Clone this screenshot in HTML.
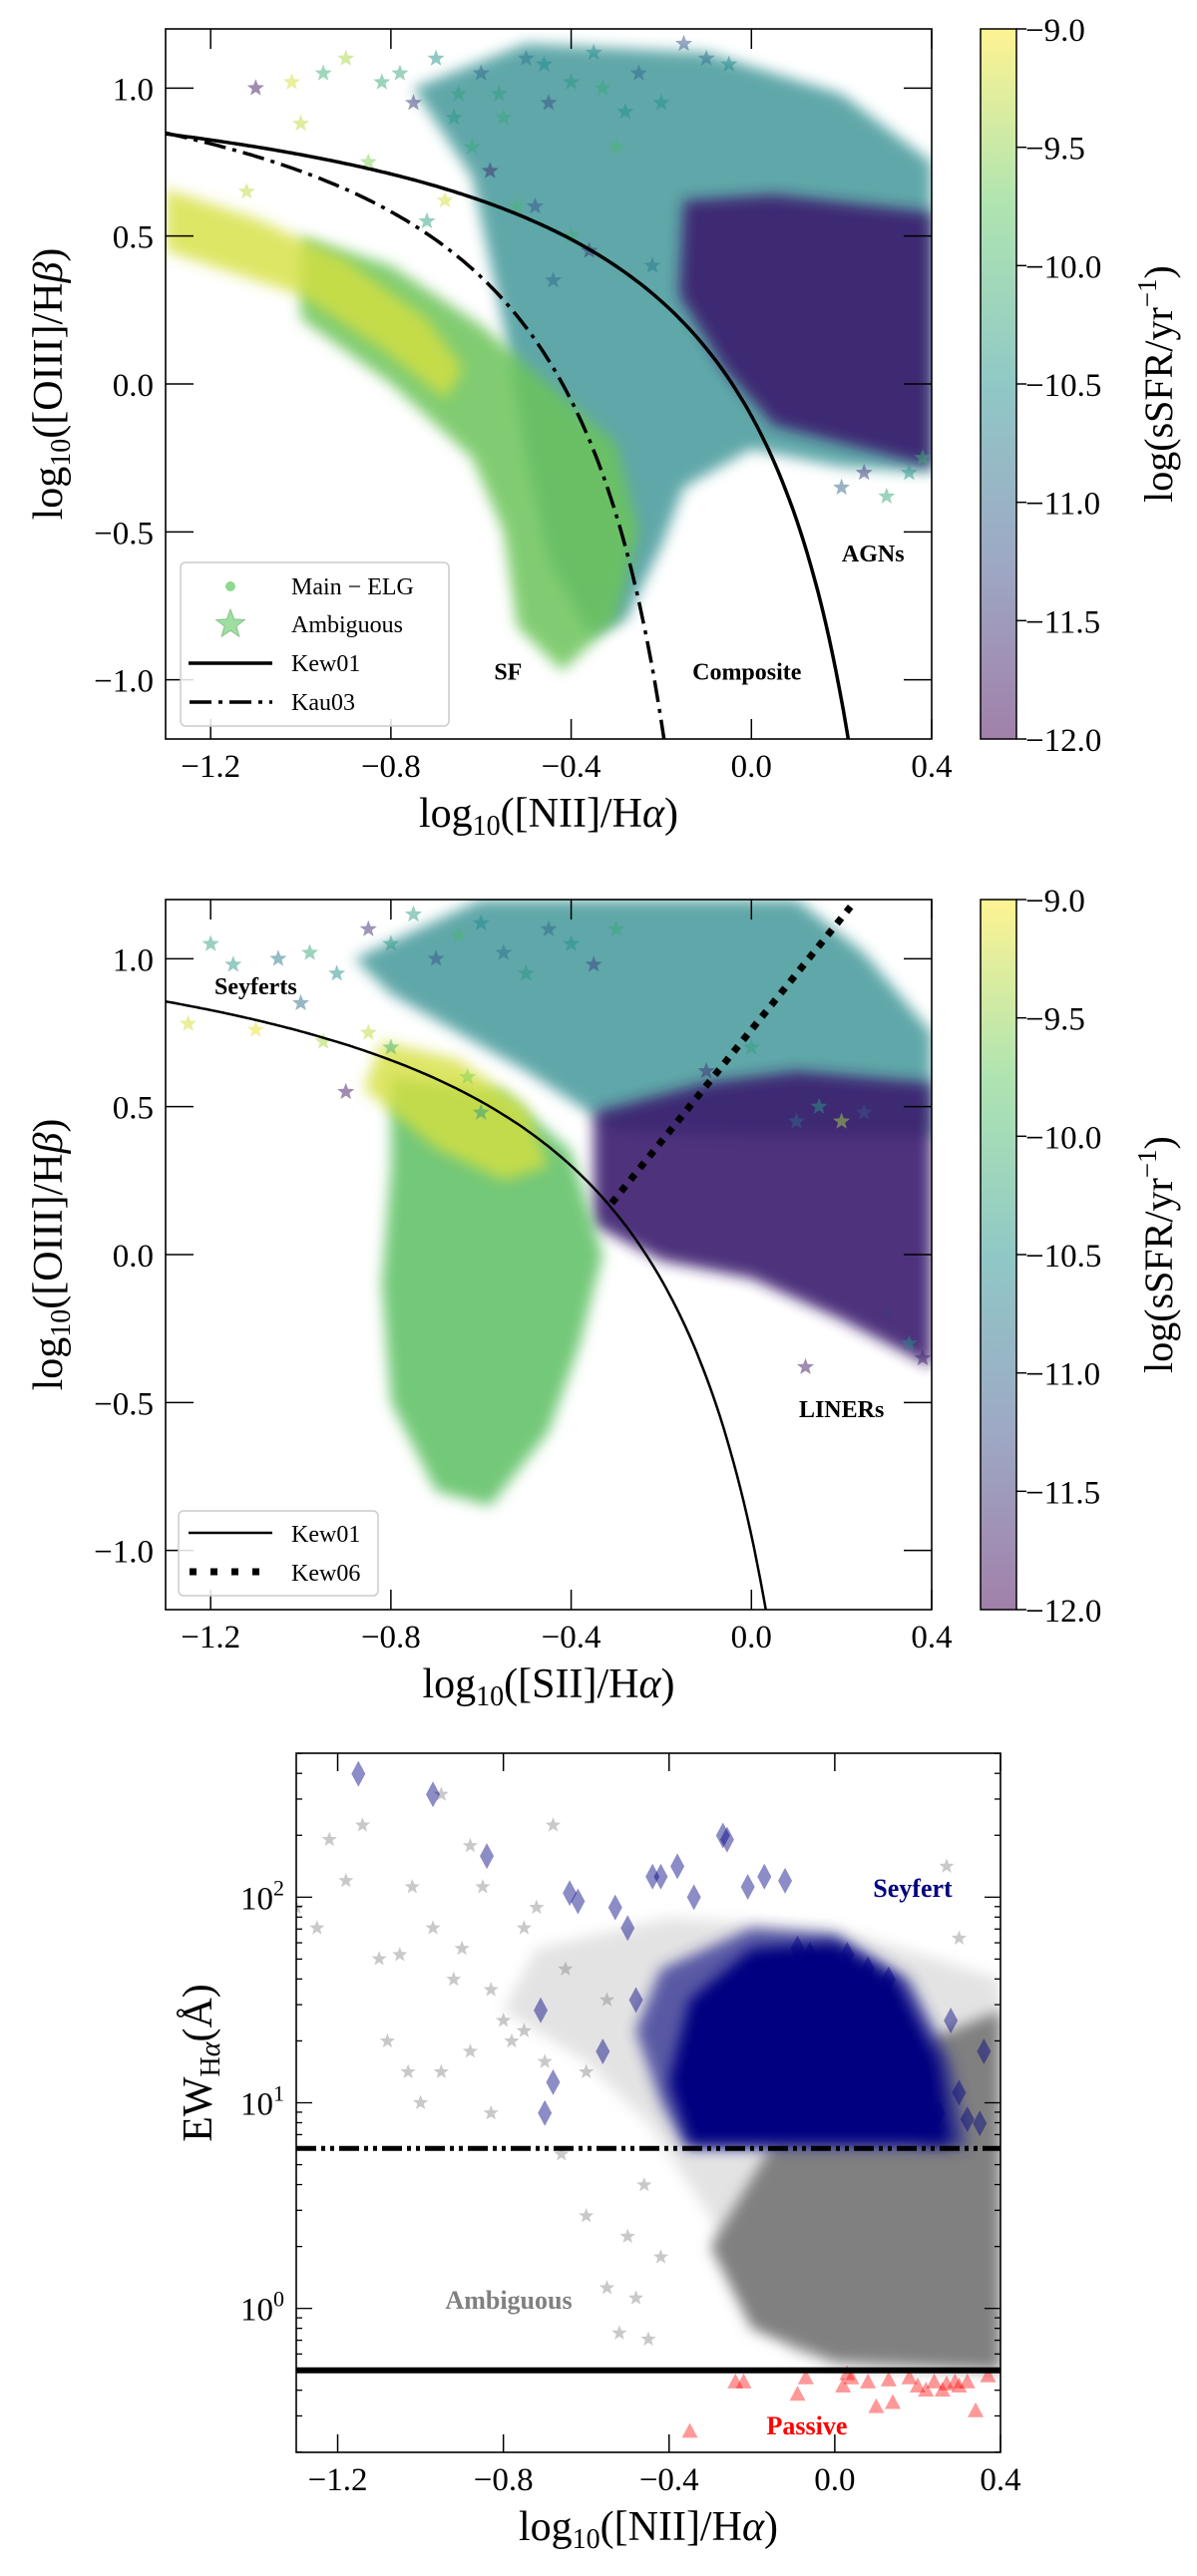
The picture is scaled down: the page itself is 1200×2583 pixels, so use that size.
<!DOCTYPE html>
<html><head><meta charset="utf-8">
<style>
html,body{margin:0;padding:0;background:#fff;}
svg{display:block;font-family:"Liberation Serif",serif;}
</style></head>
<body>
<svg id="fig" width="1200" height="2583" viewBox="0 0 1200 2583" xmlns="http://www.w3.org/2000/svg">
<defs>
<filter id="soft" x="-20%" y="-20%" width="140%" height="140%"><feGaussianBlur stdDeviation="7"/></filter>
<linearGradient id="cbar" x1="0" y1="1" x2="0" y2="0">
<stop offset="0" stop-color="#440154"/><stop offset="0.25" stop-color="#3b528b"/><stop offset="0.5" stop-color="#21918c"/><stop offset="0.75" stop-color="#5ec962"/><stop offset="1" stop-color="#fde725"/>
</linearGradient>
</defs>
</svg>
<script>
// ---------- data ----------
const xTicksBPT = [-1.2, -0.8, -0.4, 0.0, 0.4];
const xTickLabelsBPT = ["\u22121.2", "\u22120.8", "\u22120.4", "0.0", "0.4"];
const yTicksBPT = [-1.0, -0.5, 0.0, 0.5, 1.0];
const yTickLabelsBPT = ["\u22121.0", "\u22120.5", "0.0", "0.5", "1.0"];
const cbarTicks = [-9.0, -9.5, -10.0, -10.5, -11.0, -11.5, -12.0];
const cbarTickLabels = ["\u22129.0", "\u22129.5", "\u221210.0", "\u221210.5", "\u221211.0", "\u221211.5", "\u221212.0"];
const yTicksWHAN = [0, 1, 2];
const yTickLabelsWHAN = ["0", "1", "2"];

// density regions [x, y] (panel 1 NII BPT)
const nii_agnCloud = [[-0.75,1.0],[-0.5,1.15],[-0.1,1.12],[0.2,0.98],[0.4,0.75],[0.4,-0.3],[0.2,-0.28],[0.0,-0.22],[-0.15,-0.35],[-0.2,-0.55],[-0.28,-0.8],[-0.36,-0.85],[-0.45,-0.6],[-0.5,-0.25],[-0.55,0.2],[-0.62,0.7]];
const nii_linerCore = [[-0.15,0.62],[0.05,0.64],[0.4,0.58],[0.4,-0.28],[0.25,-0.22],[0.05,-0.14],[-0.06,0.05],[-0.16,0.3]];
const nii_sfCloud = [[-1.0,0.5],[-0.8,0.4],[-0.6,0.2],[-0.45,0.0],[-0.3,-0.2],[-0.25,-0.5],[-0.3,-0.8],[-0.42,-0.97],[-0.52,-0.82],[-0.55,-0.5],[-0.62,-0.25],[-0.8,0.0],[-1.0,0.22]];
const nii_yellowCloud = [[-1.3,0.66],[-1.1,0.56],[-0.9,0.42],[-0.72,0.22],[-0.64,0.05],[-0.68,-0.05],[-0.82,0.12],[-1.0,0.3],[-1.3,0.45]];
const nii_starX = [-1.1,-1.02,-1.0,-0.95,-0.9,-0.85,-0.82,-0.75,-0.7,-0.65,-0.6,-0.55,-0.5,-0.45,-0.4,-0.35,-0.3,-0.25,-0.2,-0.15,-0.1,-0.05,-0.62,-0.58,-0.48,-0.4,-0.36,-0.22,0.2,0.25,0.3,0.35,0.38,-0.68,-0.72,-0.52,-0.44,-1.12,-0.78,-0.66,-0.56,-0.46,-0.33,-0.28];
const nii_starY = [1.0,1.02,0.88,1.05,1.1,0.75,1.02,0.95,1.1,0.98,1.05,0.9,1.1,0.95,1.02,1.12,0.8,1.05,0.95,1.15,1.1,1.08,0.8,0.72,0.6,0.5,0.45,0.4,-0.35,-0.3,-0.38,-0.3,-0.25,0.62,0.55,0.6,0.35,0.65,1.05,0.9,0.98,1.08,1.0,0.92];
const nii_starC = [-11.8,-9.2,-9.3,-10.1,-9.4,-9.6,-10.2,-11.5,-10.5,-10.3,-11.0,-10.2,-10.8,-11.3,-10.4,-10.6,-10.0,-11.0,-10.5,-11.2,-10.9,-10.6,-10.2,-11.6,-11.2,-10.1,-11.5,-10.8,-11.0,-11.5,-10.2,-10.4,-10.1,-9.2,-10.3,-10.0,-11.0,-9.3,-10.2,-10.4,-10.3,-10.6,-10.2,-10.5];

// panel 2 SII BPT
const sii_seyCloud = [[-0.88,1.0],[-0.6,1.2],[0.1,1.2],[0.25,1.02],[0.4,0.75],[0.4,0.4],[0.0,0.4],[-0.3,0.42],[-0.5,0.62],[-0.8,0.88]];
const sii_linerCloud = [[-0.35,0.48],[-0.1,0.58],[0.1,0.62],[0.4,0.58],[0.4,-0.38],[0.2,-0.22],[0.0,-0.08],[-0.2,-0.02],[-0.35,0.1]];
const sii_sfCloud = [[-0.8,0.6],[-0.55,0.55],[-0.4,0.35],[-0.33,0.0],[-0.38,-0.3],[-0.45,-0.6],[-0.58,-0.85],[-0.7,-0.8],[-0.8,-0.5],[-0.82,-0.1],[-0.8,0.3]];
const sii_yellowCloud = [[-0.82,0.72],[-0.65,0.66],[-0.5,0.5],[-0.45,0.3],[-0.55,0.25],[-0.7,0.36],[-0.86,0.56]];
const sii_starX = [-1.2,-1.15,-1.05,-1.0,-0.98,-0.92,-0.85,-0.8,-0.75,-0.7,-0.65,-0.6,-0.55,-0.5,-0.45,-0.4,-0.35,-0.3,-0.85,-0.8,-1.25,-1.1,-0.95,-0.9,-0.1,0.0,0.1,0.15,0.2,0.25,0.3,0.35,0.38,0.12,-0.6,-0.63];
const sii_starY = [1.05,0.98,1.0,0.85,1.02,0.95,1.1,1.05,1.15,1.0,1.08,1.12,1.02,0.95,1.1,1.05,0.98,1.1,0.75,0.7,0.78,0.76,0.72,0.55,0.62,0.7,0.45,0.5,0.45,0.48,-0.2,-0.3,-0.35,-0.38,0.48,0.6];
const sii_starC = [-10.3,-10.4,-10.8,-10.9,-10.2,-10.5,-11.6,-10.4,-10.3,-11.2,-10.0,-10.6,-10.9,-10.4,-11.0,-10.5,-11.4,-10.2,-9.3,-10.1,-9.2,-9.1,-9.4,-11.8,-11.6,-10.3,-11.0,-10.4,-9.4,-11.2,-11.5,-10.6,-11.7,-11.8,-10.4,-9.6];

// panel 3 WHAN (x, log10 EW)
const whan_grayCloud = [[-0.72,1.75],[-0.4,1.9],[0.0,1.85],[0.4,1.6],[0.4,-0.3],[0.1,-0.3],[-0.1,-0.22],[-0.2,0.0],[-0.3,0.45],[-0.45,0.9],[-0.6,1.2],[-0.8,1.45]];
const whan_grayCore = [[-0.15,0.8],[0.2,0.8],[0.22,1.3],[0.4,1.45],[0.4,-0.3],[0.0,-0.26],[-0.2,-0.1],[-0.3,0.3]];
const whan_seyCloud = [[-0.42,1.65],[-0.2,1.85],[0.0,1.82],[0.18,1.6],[0.28,1.2],[0.32,0.78],[-0.36,0.78],[-0.42,1.0],[-0.48,1.35]];
const whan_seyCore = [[-0.35,1.5],[-0.2,1.75],[0.0,1.78],[0.15,1.6],[0.25,1.2],[0.28,0.8],[-0.35,0.8],[-0.4,1.1]];
const diamondX = [-1.15,-0.97,-0.84,-0.64,-0.62,-0.71,-0.53,-0.5,-0.44,-0.42,-0.38,-0.34,-0.27,-0.26,-0.21,-0.17,-0.12,-0.09,-0.06,0.03,0.08,0.13,0.28,0.36,-0.7,-0.68,-0.56,-0.48,0.22,0.25,0.3,0.35,0.32];
const diamondY = [2.6,2.5,2.2,2.02,1.98,1.45,1.95,1.85,2.1,2.1,2.15,2.0,2.3,2.28,2.05,2.1,2.08,1.75,1.72,1.72,1.65,1.6,1.4,1.25,0.95,1.1,1.25,1.5,1.1,0.95,1.05,0.9,0.92];
const grayStarX = [-1.3,-1.22,-1.14,-1.1,-1.05,-1.02,-0.97,-0.95,-0.92,-0.9,-0.88,-0.85,-0.83,-0.8,-0.78,-0.75,-0.72,-0.7,-0.68,-0.65,-0.6,-0.55,-1.25,-1.18,-1.08,-1.03,-1.0,-0.95,-0.88,-0.83,-0.75,-0.66,-0.6,-0.55,-0.52,-0.48,-0.45,-0.42,-0.5,-0.46,0.27,0.3];
const grayStarY = [1.95,2.28,2.35,1.7,1.72,2.05,1.85,2.5,1.6,1.75,2.25,2.05,1.55,1.4,1.3,1.85,1.95,1.2,2.35,1.65,1.15,1.5,1.85,2.08,1.3,1.15,1.0,1.15,1.25,0.95,1.35,0.75,0.45,0.1,-0.12,0.05,-0.15,0.25,0.35,0.6,2.15,1.8];
const triX = [-0.35,-0.24,-0.22,-0.09,-0.07,0.02,0.03,0.04,0.08,0.1,0.13,0.14,0.18,0.2,0.22,0.24,0.26,0.27,0.29,0.3,0.32,0.34,0.37];
const triY = [-0.6,-0.36,-0.36,-0.42,-0.34,-0.38,-0.32,-0.34,-0.36,-0.48,-0.35,-0.46,-0.34,-0.38,-0.4,-0.36,-0.4,-0.37,-0.36,-0.38,-0.36,-0.5,-0.33];

// ---------- helpers ----------
const NS = "http://www.w3.org/2000/svg";
const svg = document.getElementById("fig");
function el(tag, attrs, parent) {
  const e = document.createElementNS(NS, tag);
  for (const k in attrs) e.setAttribute(k, attrs[k]);
  (parent || svg).appendChild(e);
  return e;
}
function viridis(v) {
  const t = Math.max(0, Math.min(1, (v + 12) / 3));
  const st = [[68,1,84],[59,82,139],[33,145,140],[94,201,98],[253,231,37]];
  const p = t * 4, i = Math.min(3, Math.floor(p)), f = p - i;
  const c = st[i].map((a, k) => Math.round(a + (st[i + 1][k] - a) * f));
  return `rgb(${c[0]},${c[1]},${c[2]})`;
}
function starPath(cx, cy, r) {
  let d = "";
  for (let i = 0; i < 10; i++) {
    const a = -Math.PI / 2 + i * Math.PI / 5, rr = i % 2 ? r * 0.42 : r;
    d += (i ? "L" : "M") + (cx + rr * Math.cos(a)).toFixed(1) + "," + (cy + rr * Math.sin(a)).toFixed(1);
  }
  return d + "Z";
}
function makeAxis(x0, x1, px0, px1) { return v => px0 + (v - x0) / (x1 - x0) * (px1 - px0); }

function region(g, pts, sx, sy, fill, op, name) {
  const p = el("polygon", {points: pts.map(q => sx(q[0]).toFixed(1) + "," + sy(q[1]).toFixed(1)).join(" "), fill: fill, opacity: op, filter: "url(#soft)"}, g);
  
  
}

function frame(L, T, R, B, name) {
  const f = el("rect", {x: L, y: T, width: R - L, height: B - T, fill: "none", stroke: "#000", "stroke-width": 1.6});
  
  
}

function bptPanel(P) {
  const sx = makeAxis(-1.3, 0.4, P.L, P.R), sy = makeAxis(-1.2, 1.2, P.B, P.T);
  const g = el("g", {"clip-path": "url(#" + P.clip + ")"});
  
  
  const cp = el("clipPath", {id: P.clip}, svg.querySelector("defs"));
  el("rect", {x: P.L, y: P.T, width: P.R - P.L, height: P.B - P.T}, cp);
  P.regions.forEach(r => region(g, r[0], sx, sy, r[1], r[2], r[3]));
  for (let i = 0; i < P.sx.length; i++) {
    const s = el("path", {d: starPath(sx(P.sx[i]), sy(P.sy[i]), 9), fill: viridis(P.sc[i]), opacity: 0.5}, g);
    
    
  }
  P.lines(g, sx, sy);
  frame(P.L, P.T, P.R, P.B, P.name + '-frame');
  xTicksBPT.forEach((v, i) => {
    const x = sx(v);
    el("line", {x1: x, x2: x, y1: P.B, y2: P.B - 20, stroke: "#000", "stroke-width": 1.5});
    el("line", {x1: x, x2: x, y1: P.T, y2: P.T + 20, stroke: "#000", "stroke-width": 1.5});
    const t = el("text", {x: x, y: P.B + 38, "font-size": 33, "text-anchor": "middle"});
    t.textContent = xTickLabelsBPT[i];
    
    
  });
  yTicksBPT.forEach((v, i) => {
    const y = sy(v);
    el("line", {x1: P.L, x2: P.L + 28, y1: y, y2: y, stroke: "#000", "stroke-width": 1.5});
    el("line", {x1: P.R, x2: P.R - 28, y1: y, y2: y, stroke: "#000", "stroke-width": 1.5});
    const t = el("text", {x: P.L - 12, y: y + 12, "font-size": 33, "text-anchor": "end"});
    t.textContent = yTickLabelsBPT[i];
    
    
  });
  const xl = el("text", {x: (P.L + P.R) / 2, y: P.B + 88, "font-size": 42, "text-anchor": "middle"});
  xl.innerHTML = 'log<tspan font-size="28" dy="8">10</tspan><tspan dy="-8">(' + P.xlab + '/H</tspan><tspan font-style="italic">α</tspan>)';
  
  
  const yl = el("text", {x: 0, y: 0, "font-size": 42, "text-anchor": "middle", transform: `translate(62,${(P.T + P.B) / 2}) rotate(-90)`});
  yl.innerHTML = 'log<tspan font-size="28" dy="8">10</tspan><tspan dy="-8">([OIII]/H</tspan><tspan font-style="italic">β</tspan>)';
  
  
  const cbL = 983, cbR = 1019;
  const cb = el("rect", {x: cbL, y: P.T, width: cbR - cbL, height: P.B - P.T, fill: "url(#cbar)", opacity: 0.5, stroke: "none"});
  
  
  el("rect", {x: cbL, y: P.T, width: cbR - cbL, height: P.B - P.T, fill: "none", stroke: "#000", "stroke-width": 1.5});
  const cy = makeAxis(-12, -9, P.B, P.T);
  cbarTicks.forEach((v, i) => {
    const y = cy(v);
    el("line", {x1: cbR, x2: cbR + 10, y1: y, y2: y, stroke: "#000", "stroke-width": 1.5});
    const t = el("text", {x: cbR + 9, y: y + 12, "font-size": 33});
    t.textContent = cbarTickLabels[i];
    
    
  });
  const cl = el("text", {x: 0, y: 0, "font-size": 40, "text-anchor": "middle", transform: `translate(1175,${(P.T + P.B) / 2}) rotate(-90)`});
  cl.innerHTML = 'log(sSFR/yr<tspan font-size="27" dy="-16">−1</tspan><tspan dy="16">)</tspan>';
  
  
  P.labels.forEach(lb => {
    const t = el("text", {x: sx(lb[1]), y: sy(lb[2]), "font-size": 24, "font-weight": "bold", "text-anchor": "middle"});
    t.textContent = lb[0];
    
    
  });
  return {sx, sy};
}

function curve(g, f, xa, xb, sx, sy, attrs, name) {
  let d = "";
  for (let k = 0; k <= 200; k++) {
    const x = xa + (xb - xa) * k / 200, y = f(x);
    if (y < -1.3) break;
    d += (k ? "L" : "M") + sx(x).toFixed(1) + "," + sy(y).toFixed(1);
  }
  const p = el("path", Object.assign({d: d, fill: "none", stroke: "#000"}, attrs), g);
  
  
}

// ---------- Panel 1 ----------
bptPanel({
  name: "nii-bpt", clip: "c1", L: 166, R: 934, T: 29, B: 741, xlab: "[NII]",
  regions: [[nii_agnCloud, "#2a8a8c", 0.75, "composite-cloud"], [nii_linerCore, "#3a1d6e", 0.9, "agn-cloud"],
            [nii_sfCloud, "#6cc45a", 0.85, "sf-cloud"], [nii_yellowCloud, "#d6e040", 0.8, "sf-yellow-cloud"]],
  sx: nii_starX, sy: nii_starY, sc: nii_starC,
  lines: (g, sx, sy) => {
    curve(g, x => 0.61 / (x - 0.47) + 1.19, -1.3, 0.3, sx, sy, {"stroke-width": 3.5}, "kew01-line");
    curve(g, x => 0.61 / (x - 0.05) + 1.3, -1.3, 0.0, sx, sy, {"stroke-width": 3.5, "stroke-dasharray": "22,7,4,7"}, "kau03-line");
  },
  labels: [["AGNs", 0.27, -0.6, "agn-label"], ["Composite", -0.01, -1.0, "composite-label"], ["SF", -0.54, -1.0, "sf-label"]]
});
(function () {
  const g = el("g", {});
  
  
  el("rect", {x: 181, y: 564, width: 269, height: 164, rx: 5, fill: "#fff", "fill-opacity": 0.85, stroke: "#ccc", "stroke-width": 1.5}, g);
  el("circle", {cx: 231, cy: 588, r: 5, fill: "#5ec962", opacity: 0.7}, g);
  el("path", {d: starPath(231, 626, 15), fill: "#5ec962", opacity: 0.6, stroke: "#3a9a3a"}, g);
  el("line", {x1: 189, x2: 273, y1: 665, y2: 665, stroke: "#000", "stroke-width": 3.5}, g);
  el("line", {x1: 190, x2: 273, y1: 704, y2: 704, stroke: "#000", "stroke-width": 3.5, "stroke-dasharray": "22,7,4,7"}, g);
  [["Main − ELG", 596], ["Ambiguous", 634], ["Kew01", 673], ["Kau03", 712]].forEach(e => {
    const t = el("text", {x: 292, y: e[1], "font-size": 24}, g);
    t.textContent = e[0];
    
    
  });
})();

// ---------- Panel 2 ----------
bptPanel({
  name: "sii-bpt", clip: "c2", L: 166, R: 934, T: 902, B: 1614, xlab: "[SII]",
  regions: [[sii_seyCloud, "#2a8a8c", 0.75, "seyfert-cloud"], [sii_linerCloud, "#3a1d6e", 0.9, "liner-cloud"],
            [sii_sfCloud, "#5cbf62", 0.85, "sf-cloud"], [sii_yellowCloud, "#d6e040", 0.8, "sf-yellow-cloud"]],
  sx: sii_starX, sy: sii_starY, sc: sii_starC,
  lines: (g, sx, sy) => {
    curve(g, x => 0.72 / (x - 0.32) + 1.30, -1.3, 0.2, sx, sy, {"stroke-width": 2.5}, "kew01-line");
    const xs = -0.31, xe = 0.22;
    const p = el("line", {x1: sx(xs), y1: sy(1.89 * xs + 0.76), x2: sx(xe), y2: sy(1.89 * xe + 0.76), stroke: "#000", "stroke-width": 7, "stroke-dasharray": "7,8"}, g);
    
    
  },
  labels: [["LINERs", 0.2, -0.55, "liner-label"], ["Seyferts", -1.1, 0.88, "seyferts-label"]]
});
(function () {
  const g = el("g", {});
  
  
  el("rect", {x: 179, y: 1515, width: 200, height: 85, rx: 5, fill: "#fff", "fill-opacity": 0.85, stroke: "#ccc", "stroke-width": 1.5}, g);
  el("line", {x1: 189, x2: 273, y1: 1537, y2: 1537, stroke: "#000", "stroke-width": 2.5}, g);
  el("line", {x1: 190, x2: 273, y1: 1576, y2: 1576, stroke: "#000", "stroke-width": 7, "stroke-dasharray": "7,14"}, g);
  [["Kew01", 1546], ["Kew06", 1585]].forEach(e => {
    const t = el("text", {x: 292, y: e[1], "font-size": 24}, g);
    t.textContent = e[0];
    
    
  });
})();

// ---------- Panel 3 (WHAN) ----------
(function () {
  const L = 297, R = 1003, T = 1758, B = 2459;
  const sx = makeAxis(-1.3, 0.4, L, R), sy = makeAxis(-0.70, 2.70, B, T);
  const cp = el("clipPath", {id: "c3"}, svg.querySelector("defs"));
  el("rect", {x: L, y: T, width: R - L, height: B - T}, cp);
  const g = el("g", {"clip-path": "url(#c3)"});
  
  
  region(g, whan_grayCloud, sx, sy, "#b0b0b0", 0.35, "ambiguous-cloud");
  region(g, whan_grayCore, sx, sy, "#808080", 1, "ambiguous-core");
  for (let i = 0; i < grayStarX.length; i++) {
    const s = el("path", {d: starPath(sx(grayStarX[i]), sy(grayStarY[i]), 8), fill: "#888", opacity: 0.45}, g);
    
    
  }
  region(g, whan_seyCloud, sx, sy, "#2a2a90", 0.75, "seyfert-cloud");
  region(g, whan_seyCore, sx, sy, "#000080", 1, "seyfert-core");
  for (let i = 0; i < diamondX.length; i++) {
    const x = sx(diamondX[i]), y = sy(diamondY[i]);
    const d = el("path", {d: `M${x},${y - 13}L${x + 7},${y}L${x},${y + 13}L${x - 7},${y}Z`, fill: "#000080", opacity: 0.45}, g);
    
    
  }
  for (let i = 0; i < triX.length; i++) {
    const x = sx(triX[i]), y = sy(triY[i]);
    const t = el("path", {d: `M${x},${y - 9}L${x + 8},${y + 6}L${x - 8},${y + 6}Z`, fill: "#ff0000", opacity: 0.4}, g);
    
    
  }
  const dd = el("line", {x1: L, x2: R, y1: sy(Math.log10(6)), y2: sy(Math.log10(6)), stroke: "#000", "stroke-width": 5, "stroke-dasharray": "20,5,4,5,4,5"});
  
  
  const sl = el("line", {x1: L, x2: R, y1: sy(Math.log10(0.5)), y2: sy(Math.log10(0.5)), stroke: "#000", "stroke-width": 6});
  
  
  frame(L, T, R, B, 'whan-frame');
  xTicksBPT.forEach((v, i) => {
    const x = sx(v);
    el("line", {x1: x, x2: x, y1: B, y2: B - 18, stroke: "#000", "stroke-width": 1.5});
    el("line", {x1: x, x2: x, y1: T, y2: T + 18, stroke: "#000", "stroke-width": 1.5});
    const t = el("text", {x: x, y: B + 38, "font-size": 33, "text-anchor": "middle"});
    t.textContent = xTickLabelsBPT[i];
    
    
  });
  for (let dec = -1; dec <= 2; dec++) {
    for (let m = 1; m <= 9; m++) {
      const lv = dec + Math.log10(m);
      if (lv < -0.7 || lv > 2.7) continue;
      const y = sy(lv), len = m === 1 ? 16 : 6;
      el("line", {x1: L, x2: L + len, y1: y, y2: y, stroke: "#000", "stroke-width": 1.3});
      el("line", {x1: R, x2: R - len, y1: y, y2: y, stroke: "#000", "stroke-width": 1.3});
    }
  }
  yTicksWHAN.forEach((v, i) => {
    const t = el("text", {x: L - 12, y: sy(v) + 12, "font-size": 33, "text-anchor": "end"});
    t.innerHTML = '10<tspan font-size="22" dy="-14">' + yTickLabelsWHAN[i] + '</tspan>';
    
    
  });
  const xl = el("text", {x: (L + R) / 2, y: B + 88, "font-size": 42, "text-anchor": "middle"});
  xl.innerHTML = 'log<tspan font-size="28" dy="8">10</tspan><tspan dy="-8">([NII]/H</tspan><tspan font-style="italic">α</tspan>)';
  
  
  const yl = el("text", {x: 0, y: 0, "font-size": 42, "text-anchor": "middle", transform: `translate(212,${(T + B) / 2 - 40}) rotate(-90)`});
  yl.innerHTML = 'EW<tspan font-size="28" dy="8">H<tspan font-style="italic">α</tspan></tspan><tspan dy="-8">(Å)</tspan>';
  
  
  [["Seyfert", 915, 1902, "#000080", "seyfert-label"], ["Ambiguous", 510, 2315, "#808080", "ambiguous-label"], ["Passive", 809, 2441, "#ff0000", "passive-label"]].forEach(lb => {
    const t = el("text", {x: lb[1], y: lb[2], "font-size": 26, "font-weight": "bold", "text-anchor": "middle", fill: lb[3]});
    t.textContent = lb[0];
    
    
  });
})();
</script>
</body></html>
